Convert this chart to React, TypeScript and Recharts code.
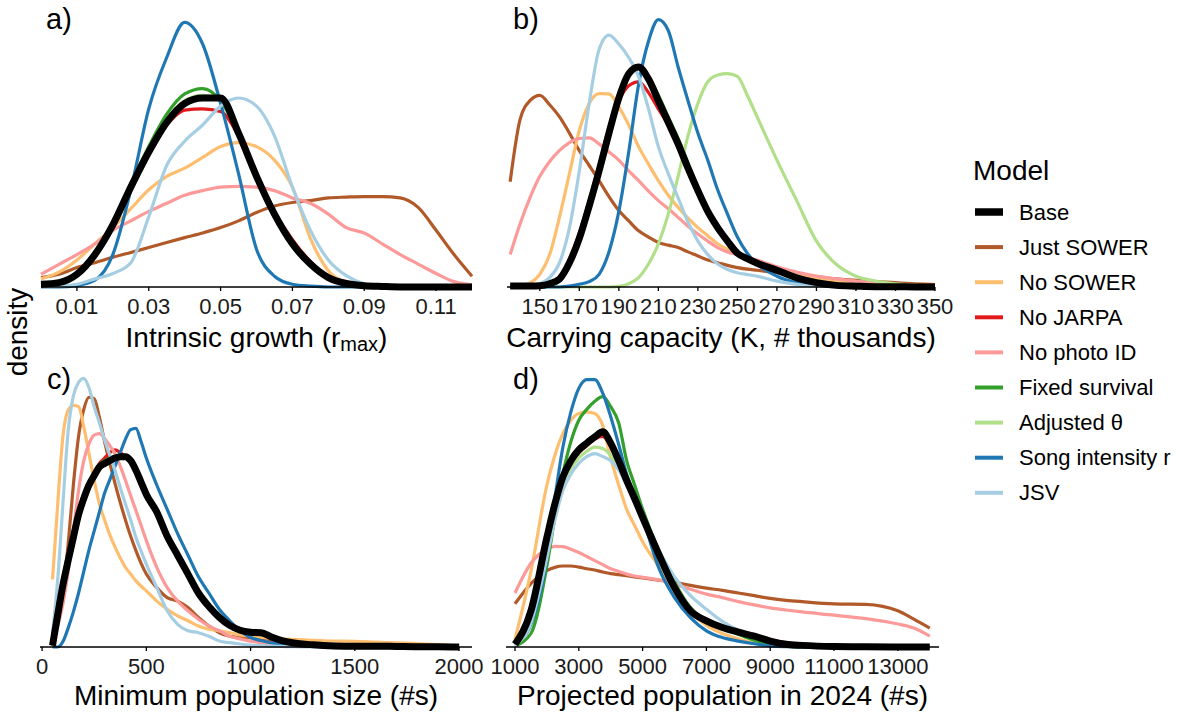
import React from 'react';
import { LineChart, Line, XAxis, YAxis } from 'recharts';

const FONT = '"Liberation Sans", Arial, Helvetica, sans-serif';

// ---------- legend / series meta ----------
const modelKeys = ['base', 'justSower', 'noSower', 'noJarpa', 'noPhoto', 'fixed', 'adjusted', 'song', 'jsv'];
const modelLabels = ['Base', 'Just SOWER', 'No SOWER', 'No JARPA', 'No photo ID', 'Fixed survival', 'Adjusted θ', 'Song intensity r', 'JSV'];
const modelColors = ['#000000', '#B15928', '#FDBF6F', '#E31A1C', '#FB9A99', '#33A02C', '#B2DF8A', '#1F78B4', '#A6CEE3'];
const drawOrder = ['justSower', 'noSower', 'noJarpa', 'noPhoto', 'fixed', 'adjusted', 'song', 'jsv', 'base'];

// ---------- panel a: intrinsic growth ----------
const aX = [0, 0.005, 0.01, 0.015, 0.02, 0.025, 0.03, 0.035, 0.04, 0.045, 0.05, 0.055, 0.06, 0.065, 0.07, 0.075, 0.08, 0.085, 0.09, 0.095, 0.1, 0.105, 0.11, 0.115, 0.12];
const aTicks = [0.01, 0.03, 0.05, 0.07, 0.09, 0.11];
const aBase = [0.01, 0.016, 0.047, 0.12, 0.23, 0.37, 0.5, 0.61, 0.68, 0.7, 0.7, 0.57, 0.41, 0.27, 0.16, 0.085, 0.035, 0.013, 0.005, 0.002, 0, 0, 0, 0, 0];
const aJustSower = [0.035, 0.047, 0.072, 0.09, 0.11, 0.128, 0.146, 0.165, 0.183, 0.2, 0.22, 0.245, 0.276, 0.3, 0.313, 0.32, 0.33, 0.333, 0.335, 0.335, 0.33, 0.295, 0.21, 0.12, 0.04];
const aNoSower = [0.03, 0.055, 0.1, 0.16, 0.22, 0.29, 0.36, 0.41, 0.44, 0.48, 0.52, 0.535, 0.52, 0.47, 0.37, 0.18, 0.06, 0.015, 0.003, 0, 0, 0, 0, 0, 0];
const aNoJarpa = [0.01, 0.016, 0.047, 0.12, 0.23, 0.37, 0.5, 0.6, 0.655, 0.66, 0.65, 0.56, 0.42, 0.28, 0.175, 0.095, 0.04, 0.015, 0.006, 0.002, 0, 0, 0, 0, 0];
const aNoPhoto = [0.047, 0.084, 0.12, 0.16, 0.21, 0.245, 0.28, 0.31, 0.34, 0.357, 0.37, 0.373, 0.37, 0.357, 0.33, 0.31, 0.27, 0.22, 0.2, 0.16, 0.12, 0.085, 0.05, 0.02, 0.008];
const aFixed = [0.008, 0.014, 0.045, 0.12, 0.235, 0.38, 0.52, 0.64, 0.715, 0.735, 0.69, 0.565, 0.4, 0.26, 0.15, 0.08, 0.033, 0.012, 0.004, 0.001, 0, 0, 0, 0, 0];
const aAdjusted = [0.01, 0.016, 0.047, 0.12, 0.235, 0.375, 0.51, 0.62, 0.69, 0.71, 0.695, 0.57, 0.405, 0.265, 0.155, 0.082, 0.034, 0.012, 0.005, 0.002, 0, 0, 0, 0, 0];
const aSong = [0, 0, 0.005, 0.025, 0.12, 0.36, 0.66, 0.85, 0.98, 0.9, 0.68, 0.42, 0.14, 0.04, 0.01, 0.003, 0, 0, 0, 0, 0, 0, 0, 0, 0];
const aJsv = [0, 0.003, 0.01, 0.03, 0.05, 0.09, 0.26, 0.45, 0.54, 0.6, 0.67, 0.7, 0.67, 0.56, 0.37, 0.21, 0.1, 0.042, 0.012, 0.003, 0, 0, 0, 0, 0];

// ---------- panel b: carrying capacity ----------
const bX = [135, 140, 145, 150, 155, 160, 165, 170, 175, 180, 185, 190, 195, 200, 205, 210, 215, 220, 225, 230, 235, 240, 245, 250, 255, 260, 270, 280, 290, 300, 310, 320, 330, 340, 350];
const bTicks = [150, 170, 190, 210, 230, 250, 270, 290, 310, 330, 350];
const bBase = [0.004, 0.004, 0.004, 0.005, 0.012, 0.03, 0.09, 0.18, 0.3, 0.43, 0.57, 0.7, 0.79, 0.815, 0.77, 0.69, 0.61, 0.53, 0.44, 0.357, 0.28, 0.22, 0.17, 0.125, 0.105, 0.088, 0.062, 0.034, 0.016, 0.006, 0.003, 0.001, 0.001, 0, 0];
const bJustSower = [0.39, 0.62, 0.69, 0.71, 0.675, 0.63, 0.57, 0.505, 0.45, 0.394, 0.335, 0.283, 0.245, 0.208, 0.185, 0.165, 0.155, 0.146, 0.13, 0.115, 0.1, 0.09, 0.08, 0.072, 0.066, 0.062, 0.053, 0.045, 0.037, 0.03, 0.025, 0.02, 0.016, 0.012, 0.009];
const bNoSower = [0, 0.003, 0.015, 0.047, 0.12, 0.26, 0.42, 0.58, 0.68, 0.716, 0.715, 0.667, 0.6, 0.52, 0.455, 0.394, 0.34, 0.295, 0.255, 0.22, 0.19, 0.16, 0.14, 0.125, 0.11, 0.095, 0.072, 0.05, 0.034, 0.022, 0.014, 0.009, 0.005, 0.003, 0.002];
const bNoJarpa = [0.004, 0.004, 0.004, 0.005, 0.013, 0.035, 0.1, 0.2, 0.32, 0.45, 0.59, 0.69, 0.745, 0.76, 0.72, 0.66, 0.6, 0.53, 0.44, 0.357, 0.28, 0.22, 0.17, 0.125, 0.105, 0.088, 0.062, 0.034, 0.016, 0.006, 0.003, 0.001, 0.001, 0, 0];
const bNoPhoto = [0.12, 0.233, 0.33, 0.41, 0.465, 0.506, 0.535, 0.55, 0.552, 0.53, 0.5, 0.47, 0.43, 0.394, 0.355, 0.32, 0.29, 0.258, 0.225, 0.196, 0.17, 0.146, 0.13, 0.12, 0.11, 0.1, 0.075, 0.055, 0.04, 0.03, 0.022, 0.015, 0.01, 0.006, 0.004];
const bFixed = [0.003, 0.003, 0.003, 0.004, 0.01, 0.028, 0.085, 0.175, 0.295, 0.43, 0.57, 0.7, 0.78, 0.81, 0.78, 0.71, 0.63, 0.55, 0.46, 0.37, 0.29, 0.225, 0.175, 0.13, 0.107, 0.09, 0.063, 0.035, 0.017, 0.007, 0.003, 0.001, 0.001, 0, 0];
const bAdjusted = [0, 0, 0, 0, 0, 0, 0, 0, 0, 0, 0, 0.002, 0.012, 0.035, 0.085, 0.16, 0.27, 0.41, 0.56, 0.68, 0.76, 0.785, 0.79, 0.78, 0.71, 0.63, 0.47, 0.32, 0.17, 0.084, 0.04, 0.022, 0.012, 0.006, 0.003];
const bSong = [0, 0, 0, 0, 0, 0, 0.003, 0.01, 0.02, 0.047, 0.13, 0.28, 0.5, 0.75, 0.91, 0.99, 0.95, 0.815, 0.69, 0.57, 0.47, 0.36, 0.27, 0.185, 0.125, 0.085, 0.04, 0.016, 0.007, 0.002, 0, 0, 0, 0, 0];
const bJsv = [0, 0, 0.003, 0.012, 0.035, 0.09, 0.22, 0.43, 0.68, 0.88, 0.933, 0.9, 0.85, 0.78, 0.66, 0.52, 0.42, 0.33, 0.24, 0.17, 0.12, 0.085, 0.065, 0.053, 0.046, 0.04, 0.022, 0.01, 0.004, 0.001, 0, 0, 0, 0, 0];

// ---------- panel c: minimum population size ----------
const cX = [50, 75, 100, 125, 150, 175, 200, 225, 250, 275, 300, 325, 350, 375, 400, 425, 450, 475, 500, 550, 600, 650, 700, 750, 800, 850, 900, 950, 1000, 1050, 1100, 1150, 1200, 1300, 1400, 1500, 1600, 1700, 1800, 1900, 2000];
const cTicks = [0, 500, 1000, 1500, 2000];
const cBase = [0.005, 0.12, 0.23, 0.32, 0.406, 0.49, 0.55, 0.6, 0.635, 0.667, 0.68, 0.69, 0.7, 0.705, 0.705, 0.69, 0.655, 0.61, 0.565, 0.5, 0.41, 0.34, 0.27, 0.2, 0.15, 0.11, 0.08, 0.062, 0.055, 0.053, 0.037, 0.024, 0.016, 0.008, 0.004, 0.003, 0.003, 0.002, 0.001, 0.001, 0];
const cJustSower = [0.03, 0.08, 0.2, 0.38, 0.6, 0.78, 0.88, 0.925, 0.92, 0.85, 0.76, 0.68, 0.605, 0.535, 0.47, 0.41, 0.357, 0.31, 0.27, 0.22, 0.183, 0.17, 0.146, 0.109, 0.078, 0.053, 0.04, 0.036, 0.035, 0.033, 0.025, 0.016, 0.01, 0.004, 0.002, 0, 0, 0, 0, 0, 0];
const cNoSower = [0.25, 0.53, 0.78, 0.877, 0.895, 0.89, 0.815, 0.716, 0.617, 0.53, 0.47, 0.415, 0.37, 0.33, 0.295, 0.27, 0.245, 0.225, 0.208, 0.17, 0.14, 0.115, 0.097, 0.078, 0.066, 0.06, 0.053, 0.045, 0.04, 0.036, 0.032, 0.03, 0.028, 0.025, 0.022, 0.021, 0.018, 0.015, 0.013, 0.009, 0.004];
const cNoJarpa = [0.005, 0.12, 0.23, 0.32, 0.41, 0.495, 0.56, 0.61, 0.645, 0.68, 0.7, 0.72, 0.73, 0.72, 0.705, 0.685, 0.65, 0.61, 0.565, 0.5, 0.41, 0.34, 0.27, 0.2, 0.15, 0.11, 0.08, 0.062, 0.055, 0.053, 0.037, 0.024, 0.016, 0.008, 0.004, 0.003, 0.003, 0.002, 0.001, 0.001, 0];
const cNoPhoto = [0.04, 0.08, 0.16, 0.28, 0.43, 0.58, 0.69, 0.753, 0.785, 0.79, 0.772, 0.745, 0.716, 0.67, 0.617, 0.56, 0.506, 0.45, 0.394, 0.295, 0.22, 0.17, 0.134, 0.103, 0.078, 0.06, 0.04, 0.03, 0.022, 0.016, 0.01, 0.007, 0.004, 0.002, 0, 0, 0, 0, 0, 0, 0];
const cFixed = [0.005, 0.11, 0.22, 0.31, 0.4, 0.48, 0.545, 0.6, 0.64, 0.675, 0.69, 0.7, 0.705, 0.705, 0.7, 0.685, 0.655, 0.615, 0.57, 0.5, 0.41, 0.34, 0.27, 0.2, 0.15, 0.11, 0.08, 0.062, 0.055, 0.053, 0.037, 0.024, 0.016, 0.008, 0.004, 0.003, 0.003, 0.002, 0.001, 0.001, 0];
const cAdjusted = [0.005, 0.115, 0.225, 0.315, 0.403, 0.487, 0.548, 0.6, 0.637, 0.67, 0.685, 0.695, 0.703, 0.705, 0.703, 0.688, 0.655, 0.612, 0.567, 0.5, 0.41, 0.34, 0.27, 0.2, 0.15, 0.11, 0.08, 0.062, 0.055, 0.053, 0.037, 0.024, 0.016, 0.008, 0.004, 0.003, 0.003, 0.002, 0.001, 0.001, 0];
const cSong = [0, 0, 0.02, 0.07, 0.13, 0.2, 0.28, 0.36, 0.43, 0.5, 0.57, 0.62, 0.67, 0.72, 0.77, 0.805, 0.81, 0.76, 0.7, 0.6, 0.51, 0.42, 0.34, 0.26, 0.2, 0.14, 0.097, 0.06, 0.035, 0.024, 0.015, 0.01, 0.006, 0.002, 0, 0, 0, 0, 0, 0, 0];
const cJsv = [0.05, 0.25, 0.53, 0.8, 0.93, 0.98, 0.995, 0.96, 0.89, 0.83, 0.766, 0.71, 0.654, 0.59, 0.53, 0.47, 0.406, 0.355, 0.307, 0.22, 0.134, 0.084, 0.06, 0.053, 0.04, 0.022, 0.016, 0.011, 0.007, 0.005, 0.003, 0.002, 0.001, 0, 0, 0, 0, 0, 0, 0, 0];

// ---------- panel d: projected population 2024 ----------
const dX = [1000, 1500, 2000, 2250, 2500, 2750, 3000, 3250, 3500, 3750, 4000, 4250, 4500, 4750, 5000, 5500, 6000, 6500, 7000, 7500, 8000, 8500, 9000, 9500, 10000, 11000, 12000, 13000, 13500, 14000];
const dTicks = [1000, 3000, 5000, 7000, 9000, 11000, 13000];
const dBase = [0.01, 0.134, 0.406, 0.53, 0.63, 0.69, 0.73, 0.755, 0.778, 0.797, 0.755, 0.69, 0.617, 0.55, 0.48, 0.345, 0.22, 0.134, 0.097, 0.072, 0.055, 0.04, 0.022, 0.01, 0.006, 0.002, 0.001, 0, 0, 0];
const dJustSower = [0.16, 0.235, 0.283, 0.295, 0.3, 0.3, 0.296, 0.29, 0.285, 0.278, 0.272, 0.268, 0.264, 0.26, 0.256, 0.248, 0.24, 0.228, 0.218, 0.21, 0.2, 0.19, 0.18, 0.173, 0.168, 0.16, 0.158, 0.134, 0.103, 0.07];
const dNoSower = [0.028, 0.28, 0.6, 0.71, 0.79, 0.84, 0.865, 0.87, 0.865, 0.82, 0.7, 0.6, 0.51, 0.45, 0.39, 0.3, 0.21, 0.13, 0.08, 0.05, 0.03, 0.014, 0.006, 0.002, 0, 0, 0, 0, 0, 0];
const dNoJarpa = [0.01, 0.13, 0.4, 0.52, 0.62, 0.68, 0.72, 0.745, 0.77, 0.78, 0.745, 0.685, 0.615, 0.55, 0.485, 0.35, 0.23, 0.145, 0.1, 0.078, 0.06, 0.045, 0.028, 0.015, 0.008, 0.003, 0.001, 0, 0, 0];
const dNoPhoto = [0.2, 0.31, 0.363, 0.373, 0.372, 0.362, 0.35, 0.335, 0.32, 0.305, 0.29, 0.28, 0.27, 0.263, 0.258, 0.248, 0.233, 0.214, 0.196, 0.183, 0.168, 0.156, 0.145, 0.137, 0.13, 0.118, 0.105, 0.085, 0.07, 0.04];
const dFixed = [0.004, 0.05, 0.3, 0.48, 0.64, 0.76, 0.84, 0.88, 0.91, 0.927, 0.89, 0.83, 0.69, 0.6, 0.51, 0.36, 0.24, 0.146, 0.095, 0.07, 0.047, 0.025, 0.01, 0.003, 0, 0, 0, 0, 0, 0];
const dAdjusted = [0.005, 0.1, 0.37, 0.5, 0.6, 0.66, 0.7, 0.725, 0.74, 0.735, 0.71, 0.665, 0.61, 0.545, 0.48, 0.35, 0.23, 0.145, 0.1, 0.075, 0.055, 0.035, 0.018, 0.008, 0.003, 0.001, 0, 0, 0, 0];
const dSong = [0.01, 0.085, 0.33, 0.55, 0.74, 0.87, 0.958, 0.99, 0.99, 0.94, 0.853, 0.75, 0.64, 0.56, 0.48, 0.295, 0.183, 0.109, 0.06, 0.035, 0.022, 0.012, 0.004, 0.001, 0, 0, 0, 0, 0, 0];
const dJsv = [0.005, 0.09, 0.33, 0.47, 0.58, 0.64, 0.68, 0.705, 0.716, 0.705, 0.69, 0.655, 0.6, 0.54, 0.48, 0.36, 0.26, 0.19, 0.14, 0.095, 0.062, 0.04, 0.022, 0.01, 0.004, 0.001, 0, 0, 0, 0];

type Series = Record<string, number[]>;

function buildRows(xs: number[], s: Series) {
  return xs.map((x, i) => {
    const row: Record<string, number> = { x };
    modelKeys.forEach((k) => {
      row[k] = s[k][i];
    });
    return row;
  });
}

const aRows = buildRows(aX, { base: aBase, justSower: aJustSower, noSower: aNoSower, noJarpa: aNoJarpa, noPhoto: aNoPhoto, fixed: aFixed, adjusted: aAdjusted, song: aSong, jsv: aJsv });
const bRows = buildRows(bX, { base: bBase, justSower: bJustSower, noSower: bNoSower, noJarpa: bNoJarpa, noPhoto: bNoPhoto, fixed: bFixed, adjusted: bAdjusted, song: bSong, jsv: bJsv });
const cRows = buildRows(cX, { base: cBase, justSower: cJustSower, noSower: cNoSower, noJarpa: cNoJarpa, noPhoto: cNoPhoto, fixed: cFixed, adjusted: cAdjusted, song: cSong, jsv: cJsv });
const dRows = buildRows(dX, { base: dBase, justSower: dJustSower, noSower: dNoSower, noJarpa: dNoJarpa, noPhoto: dNoPhoto, fixed: dFixed, adjusted: dAdjusted, song: dSong, jsv: dJsv });

const colorOf = (k: string) => modelColors[modelKeys.indexOf(k)];

type PanelProps = {
  left: number; top: number; w: number; h: number; ml: number; mr: number; xh: number;
  rows: Record<string, number>[]; domain: [number, number]; ticks: number[]; fmt: (v: number) => string;
};

function Panel(p: PanelProps) {
  return (
    <div style={{ position: 'absolute', left: p.left, top: p.top }}>
      <LineChart width={p.w} height={p.h} data={p.rows} margin={{ top: 17, left: p.ml, right: p.mr, bottom: 0 }}>
        <XAxis
          type="number"
          dataKey="x"
          domain={p.domain}
          ticks={p.ticks}
          interval={0}
          tickFormatter={p.fmt}
          height={p.xh}
          tickSize={4}
          tickMargin={7}
          tick={{ fontSize: 22, fill: '#1a1a1a', fontFamily: FONT }}
          tickLine={{ stroke: '#000', strokeWidth: 1.3 }}
          axisLine={{ stroke: '#000', strokeWidth: 1.6 }}
        />
        <YAxis type="number" domain={[0, 1]} width={0} tick={false} tickLine={false} axisLine={{ stroke: '#000', strokeWidth: 1.6 }} />
        {drawOrder.map((k) => (
          <Line
            key={k}
            type="monotone"
            dataKey={k}
            stroke={colorOf(k)}
            strokeWidth={k === 'base' ? 7 : 3.2}
            dot={false}
            activeDot={false}
            isAnimationActive={false}
          />
        ))}
      </LineChart>
    </div>
  );
}

const fmt2 = (v: number) => v.toFixed(2);
const fmt0 = (v: number) => String(v);

export default function App() {
  const legendTop = 212;
  const legendStep = 35.1;
  return (
    <div style={{ position: 'absolute', left: 0, top: 0, width: 1181, height: 712, overflow: 'hidden', background: '#fff', fontFamily: FONT }}>
      <Panel left={0} top={0} w={490} h={360} ml={41} mr={18} xh={73} rows={aRows} domain={[0, 0.12]} ticks={aTicks} fmt={fmt2} />
      <Panel left={480} top={0} w={480} h={360} ml={27} mr={25} xh={73} rows={bRows} domain={[133.4, 350]} ticks={bTicks} fmt={fmt0} />
      <Panel left={0} top={360} w={500} h={352} ml={40} mr={28} xh={65} rows={cRows} domain={[-10, 2062]} ticks={cTicks} fmt={fmt0} />
      <Panel left={480} top={360} w={480} h={352} ml={26} mr={21} xh={65} rows={dRows} domain={[718, 14290]} ticks={dTicks} fmt={fmt0} />
      <svg width={1181} height={712} style={{ position: 'absolute', left: 0, top: 0, pointerEvents: 'none' }} fontFamily={FONT}>
        <text transform="translate(27,332) rotate(-90)" textAnchor="middle" fontSize={28} fill="#000">density</text>
        <text x={46} y={29} fontSize={29} fill="#000">a)</text>
        <text x={513} y={29} fontSize={29} fill="#000">b)</text>
        <text x={47} y={389} fontSize={29} fill="#000">c)</text>
        <text x={513} y={389} fontSize={29} fill="#000">d)</text>
        <text x={256.5} y={347} textAnchor="middle" fontSize={28} fill="#000">
          Intrinsic growth (r<tspan fontSize={20} dy={4}>max</tspan><tspan dy={-4}>)</tspan>
        </text>
        <text x={721} y={347} textAnchor="middle" fontSize={28} fill="#000">Carrying capacity (K, # thousands)</text>
        <text x={256} y={705} textAnchor="middle" fontSize={28} fill="#000">Minimum population size (#s)</text>
        <text x={722.5} y={705} textAnchor="middle" fontSize={28} fill="#000">Projected population in 2024 (#s)</text>
        <text x={973} y={180} fontSize={28} fill="#000">Model</text>
        {modelLabels.map((lab, i) => {
          const cy = legendTop + i * legendStep;
          return (
            <g key={lab}>
              <line x1={975} x2={1003} y1={cy} y2={cy} stroke={modelColors[i]} strokeWidth={i === 0 ? 7.5 : 4} />
              <text x={1019} y={cy + 7.5} fontSize={22} fill="#000">{lab}</text>
            </g>
          );
        })}
      </svg>
    </div>
  );
}
